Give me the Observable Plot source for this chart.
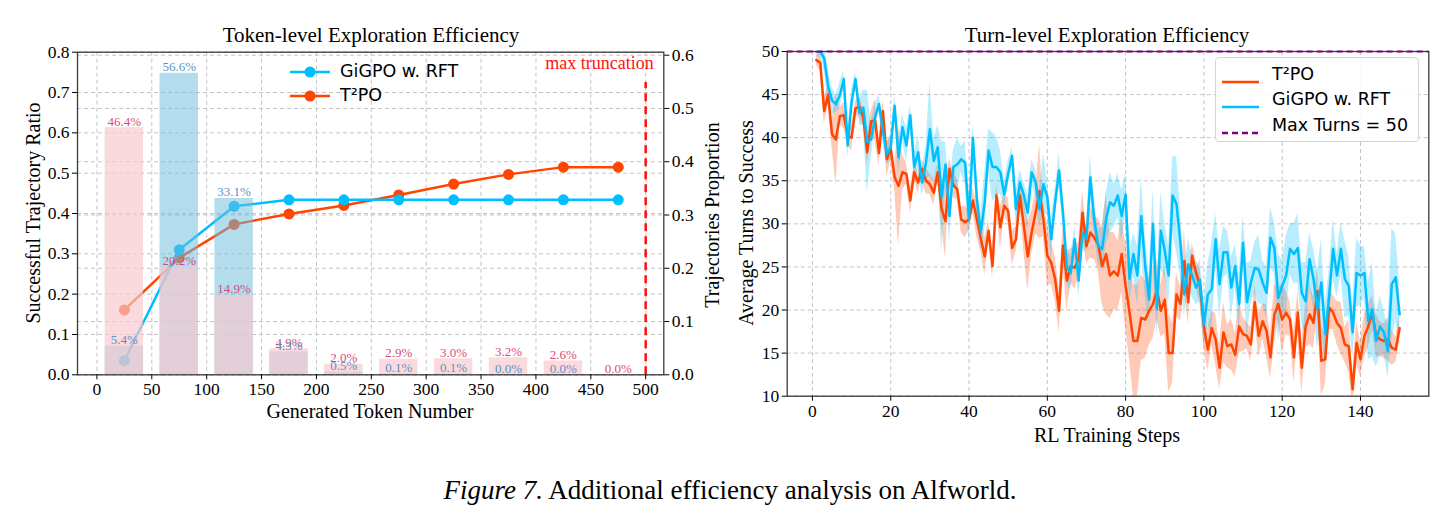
<!DOCTYPE html>
<html><head><meta charset="utf-8">
<script src="https://cdn.jsdelivr.net/npm/d3@7"></script>
<script src="https://cdn.jsdelivr.net/npm/@observablehq/plot@0.6"></script>
<style>
body{margin:0;background:#fff;}
#root{position:relative;width:1450px;height:518px;background:#fff;font-family:"Liberation Serif",serif;color:#000;overflow:hidden;}
.abs{position:absolute;white-space:nowrap;line-height:1;}
.c{transform:translate(-50%,-50%);}
.rot{transform:translate(-50%,-50%) rotate(-90deg);}
.leg{font-family:"DejaVu Sans",sans-serif;font-size:17.5px;}
svg text{font-family:"Liberation Serif",serif;}
</style></head><body><div id="root"></div>
<script>
// ---------- Left chart data ----------
const binCenters = [25, 75, 125, 175, 225, 275, 325, 375, 425, 475];
const gigpoSuccess = [0.035, 0.310, 0.418, 0.434, 0.434, 0.434, 0.434, 0.434, 0.434, 0.434];
const t2poSuccess  = [0.161, 0.290, 0.373, 0.399, 0.420, 0.446, 0.473, 0.497, 0.515, 0.515];
const t2poProportion  = [46.4, 20.2, 14.9, 4.9, 2.0, 2.9, 3.0, 3.2, 2.6, 0.0];
const gigpoProportion = [5.4, 56.6, 33.1, 4.3, 0.5, 0.1, 0.1, 0.0, 0.0, null];
const tokenTicks = [0, 50, 100, 150, 200, 250, 300, 350, 400, 450, 500];
const ratioTicks = [0.0, 0.1, 0.2, 0.3, 0.4, 0.5, 0.6, 0.7, 0.8];
const proportionTicks = [0.0, 0.1, 0.2, 0.3, 0.4, 0.5, 0.6];
const proportionMax = 0.566 * 1.07;
const truncation = 500;
const truncationTop = 0.725;

// ---------- Right chart data (training steps 1..150) ----------
const firstStep = 1;
const t2poTurns = [49.0,48.7,43.1,45.0,40.4,39.8,42.5,42.6,40.2,
40.0,43.4,43.6,42.3,38.3,41.9,42.0,38.2,43.1,37.5,
38.7,35.4,34.4,36.0,35.8,32.7,36.0,34.8,36.4,35.0,
34.6,33.6,36.0,31.7,30.3,36.4,34.5,34.0,30.5,30.2,
30.5,32.7,30.5,28.3,26.2,29.2,25.1,33.3,29.6,32.1,
31.5,27.2,28.2,33.3,29.8,26.2,29.0,31.3,33.8,30.5,
26.3,25.5,23.6,19.9,27.5,23.4,25.1,24.9,25.9,31.3,
27.4,29.0,28.4,27.6,25.1,26.5,24.0,24.5,24.0,26.5,
22.8,19.7,16.4,16.4,19.1,18.9,19.9,20.7,22.4,19.9,
21.2,15.0,15.0,21.8,20.7,25.7,20.9,26.3,24.3,22.8,
18.1,15.4,17.9,16.6,13.3,17.4,15.8,16.0,14.8,18.1,
17.2,17.0,16.0,20.9,17.0,18.7,17.6,14.5,19.5,20.7,
18.9,19.7,18.9,14.5,19.7,13.3,18.1,19.5,18.5,22.2,
14.1,14.3,20.3,19.7,18.5,17.9,16.0,15.8,10.8,16.2,
14.3,17.0,18.1,19.7,17.0,16.6,16.4,16.6,15.6,15.4,
17.9];
const t2poSpread = [0.6,1.0,1.5,1.2,1.5,5.3,1.0,1.5,1.2,
1.5,0.8,1.2,1.0,1.5,1.2,2.5,1.5,1.2,2.0,
1.5,1.5,7.0,2.0,1.2,1.5,1.0,1.2,1.0,1.5,
1.2,1.5,1.0,2.0,4.3,1.2,1.5,1.2,1.5,1.8,
1.2,1.5,2.0,1.5,2.2,1.2,1.5,1.2,2.5,1.2,
1.5,2.0,1.5,1.0,3.0,4.0,2.5,2.5,5.5,2.0,
3.5,2.5,2.5,2.5,2.0,3.5,2.0,2.5,2.0,2.5,
2.0,3.0,2.5,3.0,4.5,7.0,5.0,4.5,4.0,4.5,
5.0,5.5,6.5,6.5,5.0,4.5,4.0,4.0,3.5,3.0,
4.0,4.5,3.5,2.5,2.0,3.5,2.5,1.5,1.5,2.0,
2.5,2.5,2.0,3.0,2.5,3.5,2.5,3.0,2.5,3.0,
2.0,1.5,2.0,2.0,2.5,2.0,3.0,2.5,3.5,2.0,
4.0,2.5,2.0,3.0,2.5,3.0,2.5,3.5,3.0,2.5,
4.0,3.0,2.5,2.0,2.5,3.0,2.0,3.0,2.0,2.5,
2.0,2.5,2.5,2.0,2.5,2.0,2.0,2.5,2.0,1.5,
1.5];
const gigpoTurns = [50.0,50.0,49.2,46.0,44.3,43.9,44.9,46.8,39.1,
44.1,46.8,42.9,43.5,39.5,39.8,42.4,43.9,40.8,38.1,
38.9,43.7,37.7,41.2,39.1,42.6,36.6,38.3,34.8,37.1,
41.0,37.3,38.9,33.1,36.9,30.9,36.6,36.9,37.5,37.1,
30.5,40.0,32.9,29.0,32.5,38.5,36.6,36.6,36.0,33.4,
35.8,37.9,31.7,34.8,33.3,31.3,36.0,34.8,31.7,34.6,
33.1,28.2,32.5,36.2,31.3,24.9,24.3,28.2,23.4,29.0,
28.2,35.4,30.5,27.4,27.1,30.5,32.5,32.1,33.3,30.9,
33.4,23.6,26.5,24.0,30.9,25.1,21.2,30.0,20.1,29.2,
26.9,24.0,33.3,32.3,27.8,21.8,25.3,24.0,22.6,23.5,
18.3,21.8,22.4,28.2,23.0,26.7,26.7,22.6,25.1,20.7,
27.8,20.9,23.2,24.9,24.7,23.2,22.0,28.4,27.2,21.4,
22.8,24.0,27.1,26.5,27.2,22.0,21.0,25.9,23.6,20.1,
23.2,17.2,21.6,27.1,24.0,27.1,23.6,22.8,17.4,24.3,
24.0,24.3,18.7,20.1,16.4,18.1,17.4,15.2,23.0,23.8,
19.5];
const gigpoSpread = [0.3,0.8,1.5,2.0,1.5,1.0,1.5,1.0,1.5,
1.5,0.8,1.5,2.0,6.0,2.0,1.5,1.0,1.5,1.2,
1.5,1.2,2.0,1.5,2.0,1.2,1.5,2.0,1.5,2.0,
5.5,2.5,2.5,6.5,2.5,3.0,2.0,3.0,1.5,2.5,
3.0,1.5,2.0,2.0,3.5,2.5,4.0,3.5,2.5,1.5,
1.5,1.0,2.0,1.5,1.5,2.0,1.5,1.5,2.0,3.5,
2.0,2.5,1.5,2.0,1.5,2.0,2.0,1.5,2.0,2.0,
1.5,2.5,2.0,2.0,2.5,3.0,3.5,2.5,2.5,3.0,
2.5,3.0,2.5,3.5,4.5,3.5,3.0,4.0,3.0,4.5,
3.0,3.5,4.5,5.5,4.0,2.5,3.0,2.5,2.0,2.5,
2.5,3.5,5.5,3.0,4.0,3.0,2.5,3.5,2.5,3.5,
3.0,4.5,2.5,3.0,4.0,2.5,3.0,3.5,3.0,5.0,
3.0,4.5,3.0,3.5,4.0,3.5,4.5,3.0,3.5,4.5,
5.0,3.5,3.0,3.5,2.5,3.0,4.5,3.5,3.0,4.0,
3.5,3.0,4.5,5.5,3.0,3.5,2.5,3.0,6.5,5.0,
3.5];
const stepTicks = [0, 20, 40, 60, 80, 100, 120, 140];
const turnTicks = [10, 15, 20, 25, 30, 35, 40, 45, 50];
const maxTurns = 50;

const ORANGE = "#FF4500", BLUE = "#00BFFF";
const gridStyle = {stroke: "#c4c4c4", strokeOpacity: 1, strokeWidth: 1, strokeDasharray: "4,3"};
const root = document.getElementById("root");

// ---------- Left chart ----------
const k = 0.8 / proportionMax;
const barHalf = 17.5;
const successRows = binCenters.map((c, i) => ({c, g: gigpoSuccess[i], t: t2poSuccess[i]}));
const blueBars = binCenters.map((c, i) => ({c, v: gigpoProportion[i]})).filter(d => d.v != null);
const redBars = binCenters.map((c, i) => ({c, v: t2poProportion[i]})).filter(d => d.v != null);

const left = Plot.plot({
  width: 720, height: 430,
  marginLeft: 77, marginRight: 56.7, marginTop: 51.7, marginBottom: 55.7,
  style: {fontFamily: "Liberation Serif, serif", fontSize: "17.5px", color: "#000", background: "transparent"},
  x: {domain: [-17.7, 516.5]},
  y: {domain: [0, 0.8]},
  marks: [
    Plot.gridX(tokenTicks, gridStyle),
    Plot.gridY(ratioTicks, gridStyle),
    Plot.gridY(proportionTicks.map(t => t * k), gridStyle),
    Plot.line(successRows, {x: "c", y: "t", stroke: ORANGE, strokeWidth: 2.5}),
    Plot.dot(successRows, {x: "c", y: "t", r: 5.5, fill: ORANGE}),
    Plot.line(successRows, {x: "c", y: "g", stroke: BLUE, strokeWidth: 2.5}),
    Plot.dot(successRows, {x: "c", y: "g", r: 5.5, fill: BLUE}),
    Plot.rectY(blueBars, {x1: d => d.c - barHalf, x2: d => d.c + barHalf, y1: 0, y2: d => d.v / 100 * k, fill: "#6fbddd", fillOpacity: 0.53}),
    Plot.rectY(redBars, {x1: d => d.c - barHalf, x2: d => d.c + barHalf, y1: 0, y2: d => d.v / 100 * k, fill: "#f8c8cd", fillOpacity: 0.68}),
    Plot.text(redBars, {x: "c", y: d => d.v / 100 * k, text: d => d.v.toFixed(1) + "%", dy: -2, lineAnchor: "bottom", fill: "#dc4a7c", fontSize: 13}),
    Plot.text(blueBars, {x: "c", y: d => d.v / 100 * k, text: d => d.v.toFixed(1) + "%", dy: -2, lineAnchor: "bottom", fill: "#5a92c8", fontSize: 13}),
    Plot.ruleX([truncation], {y1: 0, y2: truncationTop, stroke: "#ff1010", strokeWidth: 2.5, strokeDasharray: "8,5"}),
    Plot.text(["max truncation"], {frameAnchor: "top-right", dx: -10, dy: 4, lineAnchor: "top", fill: "#ff1010", fontSize: 18}),
    Plot.frame({stroke: "#3a3a3a", strokeWidth: 1.3}),
    Plot.axisX(tokenTicks, {tickSize: 5, tickPadding: 3, label: null, tickFormat: d => d}),
    Plot.axisY(ratioTicks, {tickSize: 5, tickPadding: 3, label: null, tickFormat: d3.format(".1f")}),
    Plot.axisY(proportionTicks.map(t => t * k), {anchor: "right", tickSize: 5, tickPadding: 3, label: null, tickFormat: d => (d / k).toFixed(1)})
  ]
});
left.style.position = "absolute"; left.style.left = "0px"; left.style.top = "0px";
root.appendChild(left);

// ---------- Right chart ----------
const t2poRows = t2poTurns.map((m, i) => ({step: firstStep + i, m, s: t2poSpread[i]}));
const gigpoRows = gigpoTurns.map((m, i) => ({step: firstStep + i, m, s: gigpoSpread[i]}));
const right = Plot.plot({
  width: 730, height: 450,
  marginLeft: 66.7, marginRight: 21.7, marginTop: 51, marginBottom: 54.3,
  style: {fontFamily: "Liberation Serif, serif", fontSize: "17.5px", color: "#000", background: "transparent"},
  x: {domain: [-6.45, 157.45]},
  y: {domain: [10, 50]},
  marks: [
    Plot.gridX(stepTicks, gridStyle),
    Plot.gridY(turnTicks, gridStyle),
    Plot.areaY(t2poRows, {x: "step", y1: d => d.m - d.s, y2: d => d.m + d.s, fill: ORANGE, fillOpacity: 0.28, clip: true}),
    Plot.areaY(gigpoRows, {x: "step", y1: d => d.m - d.s, y2: d => d.m + d.s, fill: BLUE, fillOpacity: 0.28, clip: true}),
    Plot.line(t2poRows, {x: "step", y: "m", stroke: ORANGE, strokeWidth: 2.5, clip: true}),
    Plot.line(gigpoRows, {x: "step", y: "m", stroke: BLUE, strokeWidth: 2.5, clip: true}),
    Plot.frame({stroke: "#3a3a3a", strokeWidth: 1.3}),
    Plot.ruleY([maxTurns], {stroke: "#800080", strokeWidth: 2, strokeDasharray: "6,4"}),
    Plot.axisX(stepTicks, {tickSize: 5, tickPadding: 3, label: null}),
    Plot.axisY(turnTicks, {tickSize: 5, tickPadding: 3, label: null})
  ]
});
right.style.position = "absolute"; right.style.left = "720px"; right.style.top = "0px";
root.appendChild(right);

// ---------- Text: titles, labels, legends, caption ----------
function addText(html, x, y, cls, extra) {
  const d = document.createElement("div");
  d.className = "abs " + cls;
  d.style.left = x + "px"; d.style.top = y + "px";
  d.innerHTML = html;
  if (extra) Object.assign(d.style, extra);
  root.appendChild(d);
  return d;
}
addText("Token-level Exploration Efficiency", 371, 35, "c", {fontSize: "21px"});
addText("Generated Token Number", 370, 411, "c", {fontSize: "20px"});
addText("Successful Trajectory Ratio", 33, 213, "rot", {fontSize: "20px"});
addText("Trajectories Proportion", 712, 215, "rot", {fontSize: "20px"});
addText("Turn-level Exploration Efficiency", 1107, 35, "c", {fontSize: "21px"});
addText("RL Training Steps", 1107, 435, "c", {fontSize: "20px"});
addText("Average Turns to Success", 746, 223, "rot", {fontSize: "20px"});
addText("<i>Figure 7.</i> Additional efficiency analysis on Alfworld.", 730, 490, "c", {fontSize: "27px"});

// left legend (no frame)
const legLeft = [["GiGPO w. RFT", BLUE, 72], ["T²PO", ORANGE, 96]];
for (const [lab, col, y] of legLeft) {
  addText(`<svg width="42" height="14"><line x1="1" y1="7" x2="41" y2="7" stroke="${col}" stroke-width="2.5"/><circle cx="21" cy="7" r="5.5" fill="${col}"/></svg>`, 289, y - 7, "", {});
  addText(lab, 340, y, "leg", {transform: "translateY(-50%)"});
}
// right legend (framed)
addText("", 1215, 57, "", {width: "204px", height: "85px", border: "1px solid #d4d4d4", borderRadius: "4px", background: "rgba(255,255,255,0.85)", boxSizing: "border-box"});
const legRight = [["T²PO", ORANGE, 75, null], ["GiGPO w. RFT", BLUE, 100, null], ["Max Turns = 50", "#800080", 126, "6,4"]];
for (const [lab, col, y, dash] of legRight) {
  addText(`<svg width="40" height="6"><line x1="1" y1="3" x2="38" y2="3" stroke="${col}" stroke-width="2.5" ${dash ? `stroke-dasharray="${dash}"` : ""}/></svg>`, 1221, y - 3, "", {});
  addText(lab, 1272, y, "leg", {transform: "translateY(-50%)", fontSize: "17.5px"});
}
</script></body></html>
